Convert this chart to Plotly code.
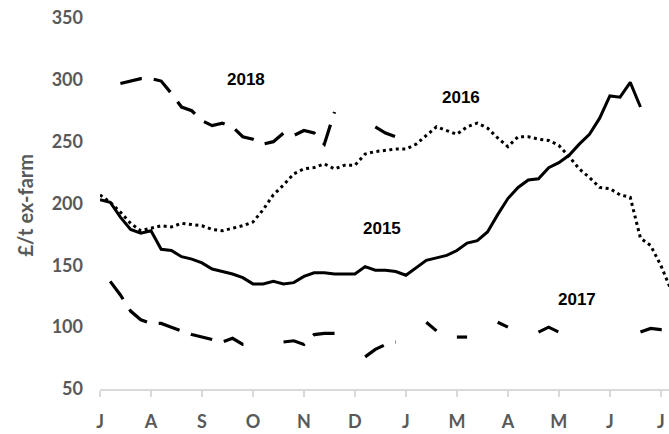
import plotly.graph_objects as go

weeks = list(range(57))
tick_vals = [0, 5, 10, 15, 20, 25, 30, 35, 40, 45, 50, 55]
tick_text = ["J", "A", "S", "O", "N", "D", "J", "M", "A", "M", "J", "J"]
y_ticks = [50, 100, 150, 200, 250, 300, 350]

y2015 = [203, 201, 189, 179, 176, 178, 163, 162, 157, 155, 152, 147, 145, 143, 140, 135,
         135, 137, 135, 136, 141, 144, 144, 143, 143, 143, 149, 146, 146, 145, 142, 148,
         154, 156, 158, 162, 168, 170, 177, 191, 204, 213, 219, 220, 229, 233, 239, 248,
         256, 269, 287, 286, 298, 278, None, None, None]

y2016 = [207, 201, 193, 184, 178, 180, 182, 181, 184, 183, 182, 179, 178, 180, 182, 185,
         195, 207, 215, 224, 228, 229, 232, 228, 231, 231, 240, 242, 243, 244, 244, 248,
         255, 262, 259, 256, 262, 265, 261, 253, 246, 254, 254, 252, 251, 247, 238, 228,
         221, 213, 212, 207, 205, 172, 166, 150, 130]

y2017 = [None, 137, 126, 113, 106, 103, 103, 100, 97, 94, 92, 90, 88, 91, 86, 86,
         None, None, 88, 89, 86, 94, 95, 95, None, None, 76, 82, 86, 88, None, None,
         104, 97, None, 92, 92, None, None, 104, 100, None, None, 96, 100, 96, None, None,
         None, None, None, None, None, 96, 99, 98, 98]

y2018 = [None, None, 297, 299, 301, 301, 299, 289, 278, 275, 267, 263, 265, 262, 254, 252,
         248, 250, 257, 255, 259, 257, 248, 274, None, None, None, 262, 257, 254, None, None,
         None, None, None, None, None, None, None, None, None, None, None, None, None, None,
         None, None, None, None, None, None, None, None, None, None, None]

series_labels = ["2018", "2016", "2015", "2017"]
label_x = [14.3, 35.4, 27.7, 46.8]
label_y = [300, 286, 180, 122]

fig = go.Figure()
fig.add_trace(go.Scatter(x=weeks, y=y2015, mode="lines", name="2015",
                         line=dict(color="black", width=3)))
fig.add_trace(go.Scatter(x=weeks, y=y2016, mode="lines", name="2016",
                         line=dict(color="black", width=3, dash="3px,3.5px")))
fig.add_trace(go.Scatter(x=weeks, y=y2017, mode="lines", name="2017",
                         line=dict(color="black", width=3.2, dash="22px,12px")))
fig.add_trace(go.Scatter(x=weeks, y=y2018, mode="lines", name="2018",
                         line=dict(color="black", width=3.2, dash="22px,12px")))

tick_font = dict(family="Lato", size=18, color="#595959", weight="bold")

for t, lx, ly in zip(series_labels, label_x, label_y):
    fig.add_annotation(x=lx, y=ly, text=t, showarrow=False,
                       font=dict(family="Liberation Sans", size=17, color="black", weight="bold"))

fig.add_annotation(xref="paper", yref="paper", x=-0.132, y=0.497, text="£/t ex-farm",
                   textangle=-90, showarrow=False, xanchor="center", yanchor="middle",
                   font=dict(family="Lato", size=20, color="#595959", weight="bold"))

fig.update_layout(
    width=669, height=434,
    margin=dict(l=100, r=0, t=18, b=45),
    paper_bgcolor="white", plot_bgcolor="white",
    showlegend=False,
    xaxis=dict(range=[0, 55.8], tickvals=tick_vals, ticktext=tick_text,
               showline=True, linecolor="#d9d9d9", linewidth=1.5,
               ticks="outside", ticklen=6, tickcolor="#d9d9d9", tickwidth=1.5,
               showgrid=False, zeroline=False, tickfont=tick_font, ticklabelstandoff=10),
    yaxis=dict(range=[50, 350], tickvals=y_ticks, showgrid=False, zeroline=False,
               showline=False, ticks="", tickfont=tick_font, ticklabelstandoff=16),
)

fig.write_html("out.html", config={"displayModeBar": False},
               post_script="document.body.style.margin='0';document.body.style.padding='0';")
